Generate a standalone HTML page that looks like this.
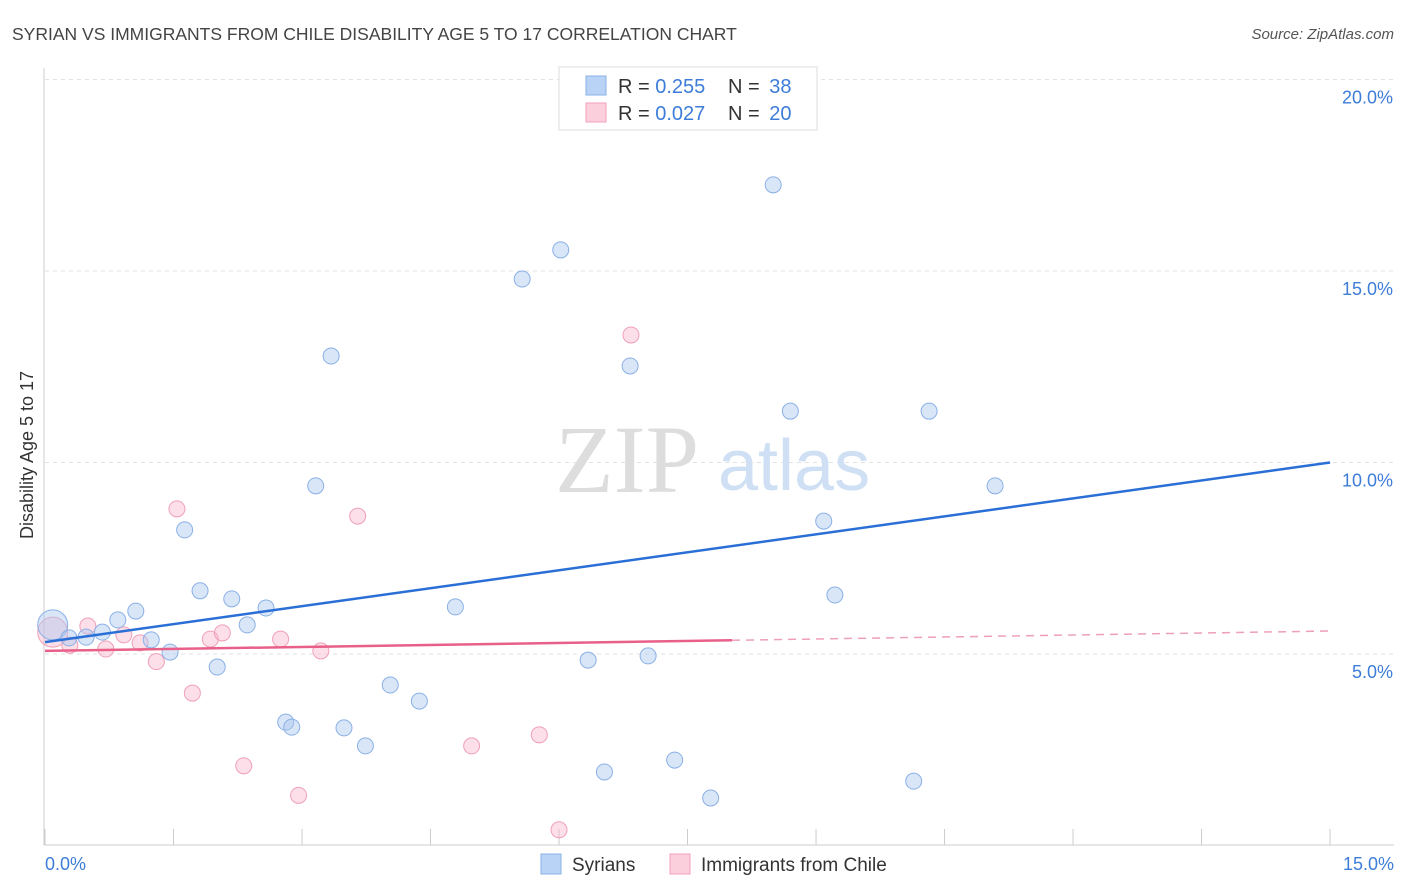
<!DOCTYPE html>
<html><head><meta charset="utf-8"><style>
body{margin:0;background:#fff;font-family:"Liberation Sans",sans-serif;}
svg{display:block}
</style></head><body>
<svg id="chart" width="1406" height="892">
<text x="12" y="40" font-size="17.5" fill="#444">SYRIAN VS IMMIGRANTS FROM CHILE DISABILITY AGE 5 TO 17 CORRELATION CHART</text>
<text x="1394" y="39" font-size="15" fill="#555" font-style="italic" text-anchor="end">Source: ZipAtlas.com</text>
<g id="grid"></g>
<text x="555" y="492" font-size="96" fill="#ddd" font-family="Liberation Serif,serif">ZIP</text>
<text x="718" y="490" font-size="72" fill="#cfe0f5">atlas</text>
<line x1="44" y1="68" x2="44" y2="845" stroke="#ccc"/>
<line x1="44" y1="845" x2="1394" y2="845" stroke="#ccc"/>
<text x="33" y="455" font-size="18" fill="#333" text-anchor="middle" transform="rotate(-90 33 455)">Disability Age 5 to 17</text>
<text x="45" y="870" font-size="18" fill="#3d7dd8">0.0%</text>
<text x="1394" y="870" font-size="18" fill="#3d7dd8" text-anchor="end">15.0%</text>
<g id="marks"></g>
<g>
<rect x="559" y="67" width="258" height="63" fill="#fff" stroke="#ddd"/>
<rect x="586" y="76" width="20" height="19" fill="#b8d3f5" stroke="#8ab0e6"/>
<rect x="586" y="103" width="20" height="19" fill="#fbcfdc" stroke="#f0a0b8"/>
<g font-size="20" fill="#333">
<text x="618" y="93">R = <tspan fill="#3d7dd8">0.255</tspan></text>
<text x="728" y="93">N = <tspan fill="#3d7dd8" dx="4">38</tspan></text>
<text x="618" y="120">R = <tspan fill="#3d7dd8">0.027</tspan></text>
<text x="728" y="120">N = <tspan fill="#3d7dd8" dx="4">20</tspan></text>
</g>
</g>
<g>
<rect x="541" y="854" width="20" height="20" fill="#b8d3f5" stroke="#8ab0e6"/>
<text x="572" y="871" font-size="19" fill="#333">Syrians</text>
<rect x="670" y="854" width="20" height="20" fill="#fbcfdc" stroke="#f0a0b8"/>
<text x="701" y="871" font-size="19" fill="#333">Immigrants from Chile</text>
</g>
</svg>
<script>
const yTicks=[5,10,15,20];
const yTickLabels=["5.0%","10.0%","15.0%","20.0%"];
const syrX=[0.09,0.28,0.48,0.67,0.85,1.06,1.24,1.46,1.63,1.81,2.01,2.18,2.36,2.58,2.81,2.88,3.16,3.34,3.49,3.74,4.03,4.37,4.79,5.57,6.02,6.34,6.53,6.83,7.04,7.35,7.77,8.50,8.70,9.09,9.22,10.14,10.32,11.09];
const syrY=[5.76,5.42,5.44,5.57,5.89,6.12,5.37,5.05,8.24,6.65,4.66,6.44,5.76,6.20,3.22,3.09,9.39,12.78,3.07,2.60,4.19,3.77,6.23,14.79,15.55,4.84,1.92,12.52,4.95,2.23,1.24,17.25,11.34,8.47,6.54,1.68,11.34,9.39];
const chlX=[0.09,0.29,0.50,0.71,0.92,1.11,1.30,1.54,1.72,1.93,2.07,2.32,2.75,2.96,3.22,3.65,4.98,5.77,6.00,6.84];
const chlY=[5.57,5.23,5.73,5.13,5.50,5.29,4.80,8.79,3.98,5.39,5.55,2.08,5.39,1.31,5.08,8.60,2.60,2.89,0.41,13.33];
const syrTrend=[5.31,10.0];
const chlTrend=[5.08,5.6];
const NS="http://www.w3.org/2000/svg";
const X=v=>45+v*85.67, Y=v=>845.5-v*38.3;
function mk(tag,attrs,parent){const e=document.createElementNS(NS,tag);for(const k in attrs)e.setAttribute(k,attrs[k]);parent.appendChild(e);return e;}
const grid=document.getElementById('grid'), marks=document.getElementById('marks');
yTicks.forEach((t,i)=>{
 const l=mk('line',{x1:45,x2:1394,y1:Y(t),y2:Y(t),stroke:'#e2e2e2','stroke-dasharray':'4,4'},grid);
 
 
 const tx=mk('text',{x:1393,y:Y(t)+24,'font-size':18,fill:'#3d7dd8','text-anchor':'end'},grid);
 tx.textContent=yTickLabels[i];
 
 
});
for(let i=0;i<=10;i++){
 const l=mk('line',{x1:X(i*1.5),x2:X(i*1.5),y1:829,y2:845,stroke:'#ccc'},grid);
 
 
}
chlX.forEach((x,i)=>{
 const c=mk('circle',{cx:X(x),cy:Y(chlY[i]),r:i==0?15:8,fill:'rgba(248,185,205,0.45)',stroke:'#f0a0b8','stroke-width':1},marks);
 
 
});
syrX.forEach((x,i)=>{
 const c=mk('circle',{cx:X(x),cy:Y(syrY[i]),r:i==0?15:8,fill:'rgba(170,200,240,0.45)',stroke:'#8ab0e6','stroke-width':1},marks);
 
 
});
const b=mk('line',{x1:X(0),y1:Y(syrTrend[0]),x2:X(15),y2:Y(syrTrend[1]),stroke:'#2a6fd6','stroke-width':2.5},marks);


const cut=8.02, pm=chlTrend[0]+(chlTrend[1]-chlTrend[0])*cut/15;
const p1=mk('line',{x1:X(0),y1:Y(chlTrend[0]),x2:X(cut),y2:Y(pm),stroke:'#e8608a','stroke-width':2.5},marks);


const p2=mk('line',{x1:X(cut),y1:Y(pm),x2:X(15),y2:Y(chlTrend[1]),stroke:'#eea0b8','stroke-width':1.5,'stroke-dasharray':'8,6'},marks);


</script>
</body></html>
